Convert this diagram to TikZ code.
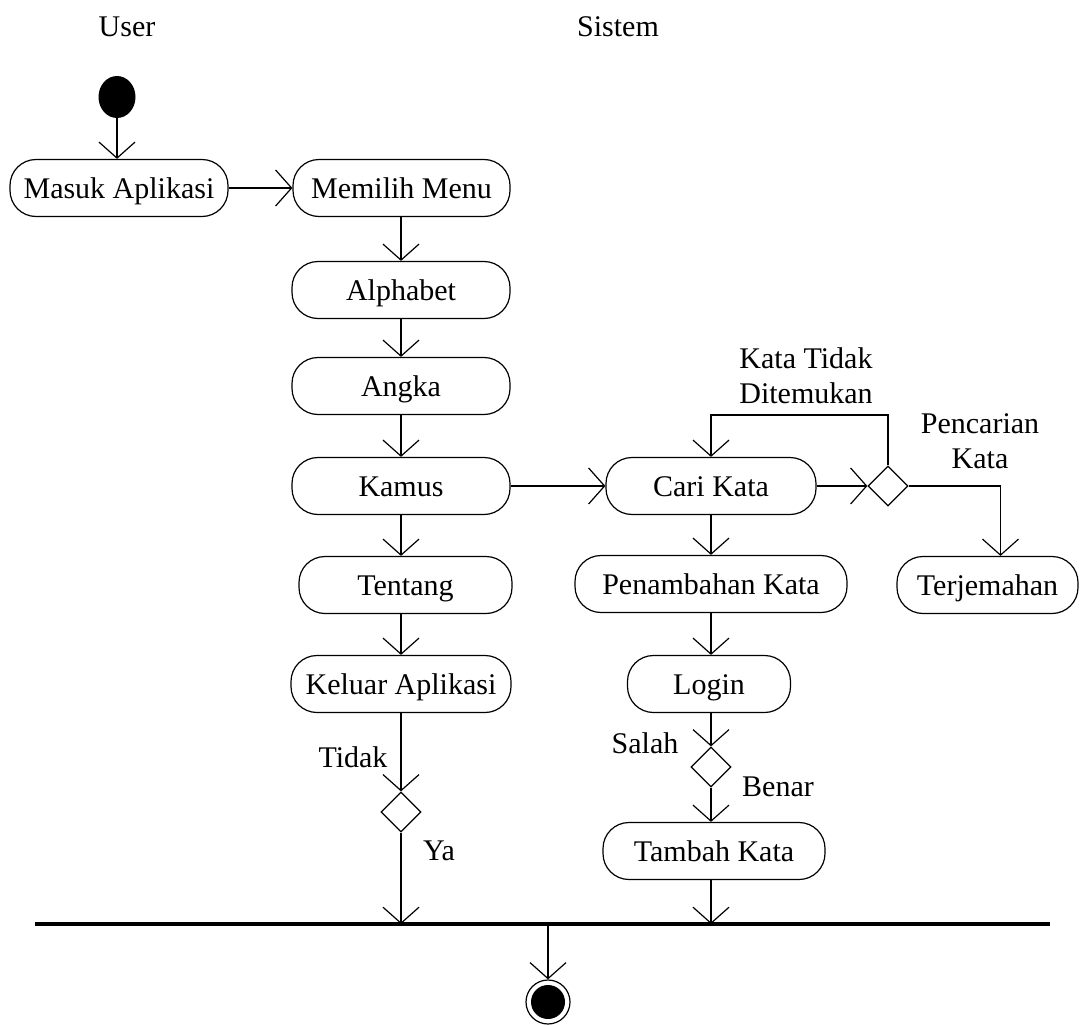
\documentclass[tikz,border=0pt]{standalone}
\usepackage{fontspec}
\setmainfont{Liberation Serif}
\usetikzlibrary{arrows.meta,shapes.geometric}
\tikzset{
  every node/.style={font=\fontsize{30}{35}\selectfont},
  act/.style={draw, rounded corners=26pt, minimum height=57pt, line width=1.2pt, inner sep=0pt, text height=20pt, text depth=0pt},
  lbl/.style={inner sep=0pt, text height=20pt, text depth=0pt},
  dec/.style={draw, diamond, minimum width=40pt, minimum height=40pt, inner sep=0pt, line width=1.2pt},
  arr/.style={line width=1.2pt, -{Straight Barb[length=16pt,width=36pt,line width=1.2pt]}},
  ln/.style={line width=1.2pt}
}
\begin{document}
\begin{tikzpicture}[x=1pt,y=-1pt]
\useasboundingbox (0,0) rectangle (1085,1025);
% lane titles
\node[anchor=base, inner sep=0pt] (user) at (127,37) {User};
\node[anchor=base, inner sep=0pt] (sistem) at (618,37) {Sistem};
% start
\node[ellipse, fill=black, minimum width=37pt, minimum height=42pt, inner sep=0pt] (init) at (117,97) {};
% user column
\node[act, minimum width=218pt] (masuk) at (119,188) {Masuk Aplikasi};
\node[act, minimum width=217pt] (memilih) at (401.5,188) {Memilih Menu};
\node[act, minimum width=218pt] (alphabet) at (401,290) {Alphabet};
\node[act, minimum width=218pt] (angka) at (401,386) {Angka};
\node[act, minimum width=218pt] (kamus) at (401,486) {Kamus};
\node[act, minimum width=213pt] (tentang) at (405.5,585) {Tentang};
\node[act, minimum width=220pt] (keluar) at (401,684) {Keluar Aplikasi};
\node[dec] (d1) at (401,812) {};
% system column
\node[act, minimum width=210pt] (cari) at (711,486) {Cari Kata};
\node[dec] (d2) at (888,486) {};
\node[act, minimum width=272pt] (penambahan) at (711,584) {Penambahan Kata};
\node[act, minimum width=181pt] (terj) at (987.5,585) {Terjemahan};
\node[act, minimum width=163pt] (login) at (709,684) {Login};
\node[dec] (d3) at (711,767) {};
\node[act, minimum width=222pt] (tambah) at (714,851) {Tambah Kata};
% join bar and end
\coordinate (barL) at (35,924);
\coordinate (barR) at (1050,924);
\coordinate (bar) at (548,924);
\coordinate (loop) at (711,415);
\draw[line width=3.5pt] (barL) -- (barR);
\node[circle, draw, line width=1.2pt, minimum size=44pt, inner sep=0pt] (final) at (548,1002) {};
\fill (final.center) circle (17pt);
% labels
\node[lbl] (tidak) at (353,757) {Tidak};
\node[lbl] (ya) at (439,850) {Ya};
\node[lbl] (salah) at (645,743) {Salah};
\node[lbl] (benar) at (778,786) {Benar};
\node[align=center, inner sep=0pt] (ktd) at (806,376) {Kata Tidak\\Ditemukan};
\node[align=center, inner sep=0pt] (pk) at (980,441) {Pencarian\\Kata};
% connectors
\draw[arr] (init.south) -- (masuk.north -| init);
\draw[arr] (masuk.east) -- (memilih.west);
\draw[arr] (memilih.south -| alphabet) -- (alphabet.north);
\draw[arr] (alphabet.south) -- (angka.north);
\draw[arr] (angka.south) -- (kamus.north);
\draw[arr] (kamus.south) -- (kamus.south |- tentang.north);
\draw[arr] (tentang.south -| keluar) -- (keluar.north);
\draw[arr] (keluar.south) -- (d1.north);
\draw[arr] (d1.south) -- (d1 |- bar);
\draw[arr] (kamus.east) -- (cari.west);
\draw[arr] (cari.east) -- (d2.west);
\draw[arr] (d2.north) |- (cari.north |- loop) -- (cari.north);
\draw[arr] (d2.east) -| ([xshift=13pt]terj.north);
\draw[arr] (cari.south) -- (penambahan.north);
\draw[arr] (penambahan.south) -- (penambahan.south |- login.north);
\draw[arr] (login.south -| d3) -- (d3.north);
\draw[arr] (d3.south) -- (d3 |- tambah.north);
\draw[arr] (tambah.south -| d3) -- (d3 |- bar);
\draw[arr] (bar) -- (final.north);
\end{tikzpicture}
\end{document}
